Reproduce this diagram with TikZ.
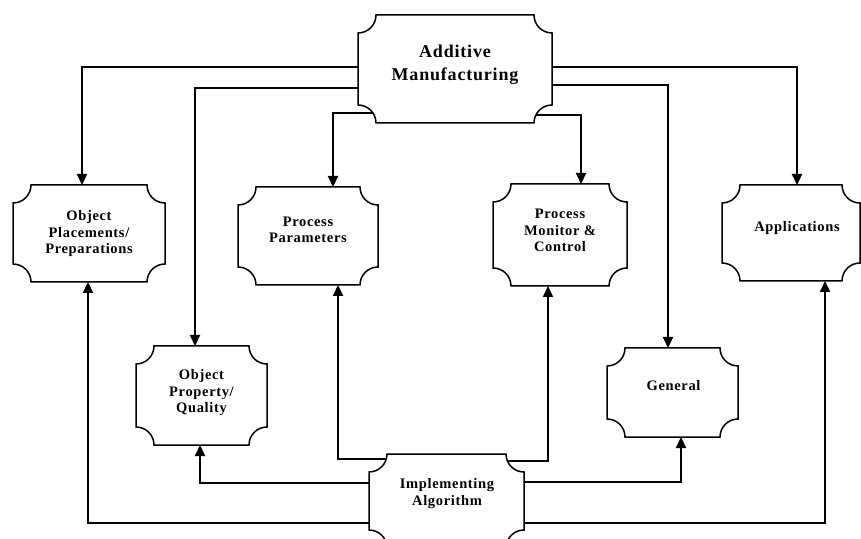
\documentclass[tikz,border=0pt]{standalone}
\usepackage{fontspec}
\setmainfont{Liberation Serif}[LetterSpace=4.5]
\usetikzlibrary{arrows.meta}
\tikzset{
 boxnode/.style={draw=none, inner sep=0pt, outer sep=0pt, shape=rectangle},
 boxline/.style={line width=1.5pt, black},
 conn/.style={line width=2.2pt, -{Triangle[length=11pt,width=10pt]}, line join=miter},
 small/.style={font=\fontsize{14.5}{16.5}\selectfont\bfseries, align=center, inner sep=0pt},
 big/.style={font=\fontsize{18}{23}\selectfont\bfseries, align=center, inner sep=0pt},
}
\newcommand\CR{18pt}
\begin{document}
\begin{tikzpicture}[x=1pt,y=1pt]
\useasboundingbox (0,0) rectangle (861,538);
\clip (0,0) rectangle (861,538);
\fill[white] (0,0) rectangle (861,538);
% box frames (named nodes)
\node[boxnode, minimum width=194pt, minimum height=108pt] (am) at (455,469) {};
\node[boxnode, minimum width=152pt, minimum height=97pt] (opp) at (89,304.5) {};
\node[boxnode, minimum width=140pt, minimum height=98pt] (pp) at (308,302) {};
\node[boxnode, minimum width=134pt, minimum height=102pt] (pmc) at (560,303) {};
\node[boxnode, minimum width=138pt, minimum height=96pt] (app) at (791,305) {};
\node[boxnode, minimum width=131pt, minimum height=99pt] (opq) at (201.5,142.5) {};
\node[boxnode, minimum width=131pt, minimum height=89pt] (gen) at (672.5,145.5) {};
\node[boxnode, minimum width=155pt, minimum height=94pt] (ia) at (446.5,37) {};
\foreach \n in {am,opp,pp,pmc,app,opq,gen,ia}{
 \draw[boxline] ([xshift=\CR]\n.north west) -- ([xshift=-\CR]\n.north east)
   arc[start angle=180,end angle=270,radius=\CR] -- ([yshift=\CR]\n.south east)
   arc[start angle=90,end angle=180,radius=\CR] -- ([xshift=\CR]\n.south west)
   arc[start angle=0,end angle=90,radius=\CR] -- ([yshift=-\CR]\n.north west)
   arc[start angle=270,end angle=360,radius=\CR] -- cycle;
}
% texts
\node[big] (amt) at (455,473.5) {Additive\\Manufacturing};
\node[small] (oppt) at (89,304) {Object\\Placements/\\Preparations};
\node[small] (ppt) at (308,308) {Process\\Parameters};
\node[small] (pmct) at (560,307.5) {Process\\Monitor \&\\Control};
\node[small] (appt) at (797,310) {Applications};
\node[small] (opqt) at (201.5,145) {Object\\Property/\\Quality};
\node[small] (gent) at (673.5,152) {General};
\node[small] (iat) at (447,44.5) {Implementing\\Algorithm};
% connectors from Additive Manufacturing
\draw[conn] ([yshift=2pt]am.west) -| ([xshift=-7pt]opp.north);
\draw[conn] ([yshift=-19pt]am.west) -| ([xshift=-6.5pt]opq.north);
\draw[conn] ([shift={(15pt,10pt)}]am.south west) -| ([xshift=25pt]pp.north);
\draw[conn] ([yshift=2pt]am.east) -| ([xshift=6pt]app.north);
\draw[conn] ([yshift=-16pt]am.east) -| ([xshift=-4.5pt]gen.north);
\draw[conn] ([shift={(-16pt,8pt)}]am.south east) -| ([xshift=21pt]pmc.north);
% connectors from Implementing Algorithm
\draw[conn] ([shift={(17pt,-5pt)}]ia.north west) -| ([xshift=30pt]pp.south);
\draw[conn] ([shift={(-16.6pt,-7pt)}]ia.north east) -| ([xshift=-12pt]pmc.south);
\draw[conn] ([yshift=18pt]ia.west) -| ([xshift=-1.5pt]opq.south);
\draw[conn] ([yshift=-22pt]ia.west) -| ([xshift=-1pt]opp.south);
\draw[conn] ([yshift=19pt]ia.east) -| ([xshift=8.5pt]gen.south);
\draw[conn] ([yshift=-22pt]ia.east) -| ([xshift=34pt]app.south);
\end{tikzpicture}
\end{document}
